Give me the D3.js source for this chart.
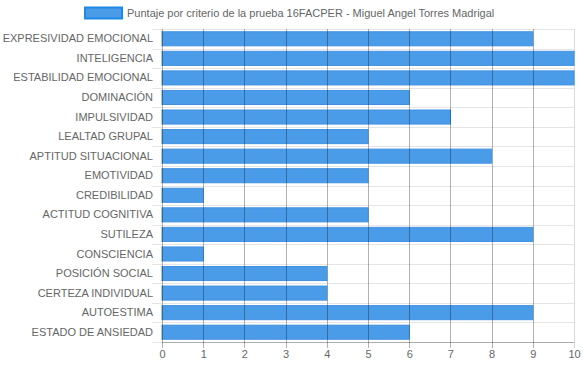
<!DOCTYPE html>
<html><head><meta charset="utf-8">
<script src="https://cdn.jsdelivr.net/npm/d3@7"></script>
<style>body{margin:0;background:#fff}svg{display:block}</style>
</head><body><svg id="c" width="583" height="368" font-family="Liberation Sans, Arial, Helvetica, sans-serif"></svg>
<script>
const categories = ["EXPRESIVIDAD EMOCIONAL","INTELIGENCIA","ESTABILIDAD EMOCIONAL","DOMINACIÓN","IMPULSIVIDAD","LEALTAD GRUPAL","APTITUD SITUACIONAL","EMOTIVIDAD","CREDIBILIDAD","ACTITUD COGNITIVA","SUTILEZA","CONSCIENCIA","POSICIÓN SOCIAL","CERTEZA INDIVIDUAL","AUTOESTIMA","ESTADO DE ANSIEDAD"];
const values = [9,10,10,6,7,5,8,5,1,5,9,1,4,4,9,6];
const xTicks = [0,1,2,3,4,5,6,7,8,9,10];
const seriesLabel = "Puntaje por criterio de la prueba 16FACPER - Miguel Angel Torres Madrigal";

const FONT = "Liberation Sans, Arial, Helvetica, sans-serif";
const svg = d3.select("#c");
const L = 162, R = 574, T = 29, B = 342;
const x = d3.scaleLinear().domain([0,10]).range([L,R]);
const y = d3.scaleBand().domain(categories).range([T,B]).paddingInner(0).paddingOuter(0);
const barH = y.bandwidth()*0.72;

// horizontal gridlines (category boundaries)
const bounds = categories.map(c=>y(c)).concat([B]);
svg.append("g").selectAll("line").data(bounds).join("line")
  .attr("x1",L-10).attr("x2",R).attr("y1",d=>Math.round(d)+0.5).attr("y2",d=>Math.round(d)+0.5)
  .attr("stroke","rgba(0,0,0,0.1)");

// bars
svg.append("g").selectAll("rect").data(values).join("rect")
  .attr("x",x(0)).attr("y",(d,i)=>y(categories[i])+(y.bandwidth()-barH)/2)
  .attr("width",d=>x(d)-x(0)).attr("height",barH)
  .attr("fill","rgb(74,155,232)").attr("stroke","rgb(66,145,225)").attr("stroke-width",1);

// vertical gridlines
svg.append("g").selectAll("line").data(xTicks).join("line")
  .attr("x1",d=>Math.round(x(d))+0.5).attr("x2",d=>Math.round(x(d))+0.5)
  .attr("y1",T).attr("y2",B+6)
  .attr("stroke",d=>d===10?"rgba(0,0,0,0.15)":"rgba(0,0,0,0.3)");

// bottom axis line
svg.append("line").attr("x1",L).attr("x2",R).attr("y1",B+0.5).attr("y2",B+0.5).attr("stroke","rgba(0,0,0,0.25)");

// x tick labels
const xAxis = d3.axisBottom(x).tickValues(xTicks).tickSize(0).tickPadding(0);
const gx = svg.append("g").attr("transform",`translate(0,${B+8})`).call(xAxis);
gx.attr("font-family",FONT).attr("font-size",11);
gx.select(".domain").remove();
gx.selectAll("text").attr("fill","#666").attr("dy","0.71em");

// y labels
const yAxis = d3.axisLeft(y).tickSize(0).tickPadding(0);
const gy = svg.append("g").attr("transform",`translate(${L-9},0)`).call(yAxis);
gy.attr("font-family",FONT).attr("font-size",11);
gy.select(".domain").remove();
gy.selectAll("text").attr("fill","#666");

// legend
const lg = svg.append("g");
lg.append("rect").attr("x",85).attr("y",7.5).attr("width",37).attr("height",11)
  .attr("fill","rgb(74,155,232)").attr("stroke","rgb(30,136,229)").attr("stroke-width",2);
lg.append("text").attr("x",127).attr("y",13).attr("dy","0.35em").attr("fill","#666")
  .attr("font-family",FONT).attr("font-size",11).text(seriesLabel);
</script></body></html>
